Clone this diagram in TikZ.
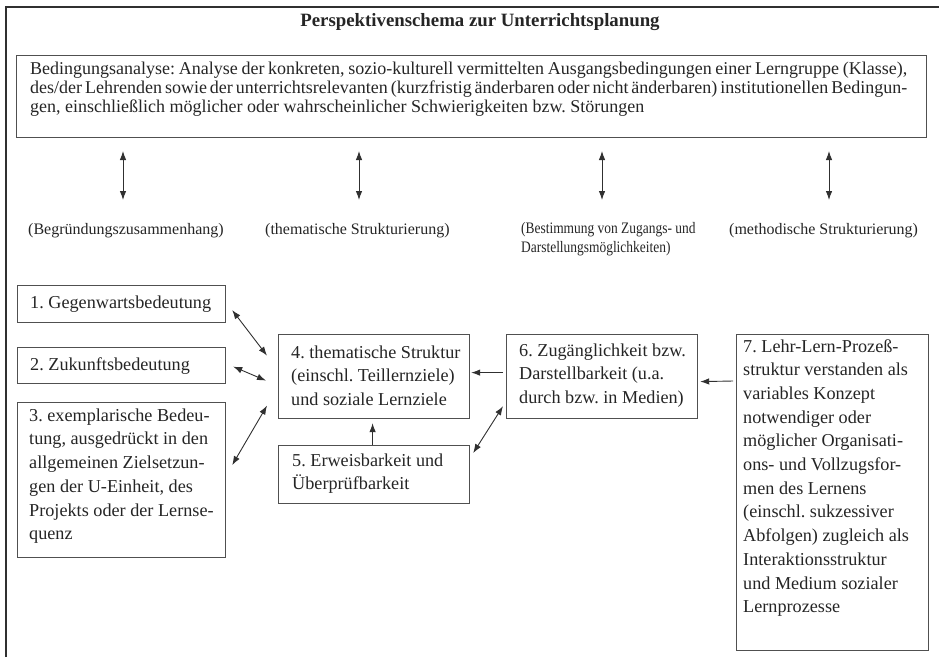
\documentclass[tikz,border=0pt]{standalone}
\usepackage{fontspec}
\setmainfont{Liberation Serif}
\usetikzlibrary{arrows.meta}
\definecolor{txt}{HTML}{252525}
\definecolor{boxc}{HTML}{505050}
\definecolor{arrc}{HTML}{303030}
\newcommand\fullline[1]{\hbox to 877pt{\spaceskip=0.22em plus 0.3em minus 0.1em\relax #1}}
\begin{document}
\frenchspacing
\begin{tikzpicture}[x=1pt,y=-1pt,
  every node/.style={text=txt},
  box/.style={draw=boxc, line width=1.2pt, inner sep=0pt, anchor=north west},
  boxtxt/.style={inner sep=0pt, align=left, font=\fontsize{18.2}{23.7}\selectfont\frenchspacing},
  lab/.style={font=\fontsize{16}{19}\selectfont, anchor=base west, inner sep=0pt, align=left},
  conn/.style={draw=arrc, line width=0.9pt, {Latex[length=9pt,width=6.5pt]}-{Latex[length=9pt,width=6.5pt]}},
  conn1/.style={draw=arrc, line width=0.9pt, -{Latex[length=9pt,width=6.5pt]}},
  frame/.style={draw=arrc, line width=1.4pt}
]
\useasboundingbox (0,0) rectangle (939,657);
% outer frame (open at right and bottom)
\draw[frame] (6,657) -- (6,7) -- (939,7);

\node[font=\fontsize{18.8}{22}\selectfont\bfseries, inner sep=0pt] (title) at (480,22) {Perspektivenschema zur Unterrichtsplanung};

\node[box, minimum width=910pt, minimum height=82pt,
  label={[boxtxt, anchor=north west, xshift=14pt, yshift=-7pt,
  font=\fontsize{18}{19}\selectfont\frenchspacing]north west:{\fullline{Bedingungsanalyse: Analyse der konkreten, sozio-kulturell vermittelten Ausgangsbedingungen einer Lerngruppe (Klasse),}\\
   \fullline{des/der Lehrenden sowie der unterrichtsrelevanten (kurzfristig änderbaren oder nicht änderbaren) institutionellen Bedingun-}\\
   gen, einschließlich möglicher oder wahrscheinlicher Schwierigkeiten bzw. Störungen}}] (bed) at (16,55) {};

% vertical double arrows
\coordinate (a1t) at (123,151); \coordinate (a1b) at (123,200);
\coordinate (a2t) at (359,151); \coordinate (a2b) at (359,200);
\coordinate (a3t) at (602,151); \coordinate (a3b) at (602,200);
\coordinate (a4t) at (829,151); \coordinate (a4b) at (829,200);
\draw[conn] (a1t) -- (a1b);
\draw[conn] (a2t) -- (a2b);
\draw[conn] (a3t) -- (a3b);
\draw[conn] (a4t) -- (a4b);

\node[lab] (l1) at (28,234) {(Begründungszusammenhang)};
\node[lab] (l2) at (265,234) {(thematische Strukturierung)};
\node[lab, anchor=north west, xscale=0.84, transform shape] (l3) at (521,222) {(Bestimmung von Zugangs- und\\Darstellungsmöglichkeiten)};
\node[lab] (l4) at (729,234) {(methodische Strukturierung)};

% boxes
\node[box, minimum width=208pt, minimum height=37pt,
  label={[boxtxt, anchor=west, xshift=13pt]west:{1. Gegenwartsbedeutung}}] (b1) at (17,285) {};
\node[box, minimum width=208pt, minimum height=36pt,
  label={[boxtxt, anchor=west, xshift=13pt]west:{2. Zukunftsbedeutung}}] (b2) at (17,347) {};
\node[box, minimum width=208pt, minimum height=155pt,
  label={[boxtxt, anchor=west, xshift=12pt, yshift=4pt]west:{3. exemplarische Bedeu-\\tung, ausgedrückt in den\\allgemeinen Zielsetzun-\\gen der U-Einheit, des\\Projekts oder der Lernse-\\quenz}}] (b3) at (17,402) {};
\node[box, minimum width=191pt, minimum height=84pt,
  label={[boxtxt, anchor=west, xshift=13pt, yshift=1pt]west:{4. thematische Struktur\\(einschl. Teillernziele)\\und soziale Lernziele}}] (b4) at (278,334) {};
\node[box, minimum width=191pt, minimum height=58pt,
  label={[boxtxt, anchor=west, xshift=14pt, yshift=1pt]west:{5. Erweisbarkeit und\\Überprüfbarkeit}}] (b5) at (278,445) {};
\node[box, minimum width=191pt, minimum height=84pt,
  label={[boxtxt, anchor=west, xshift=13pt, yshift=1pt]west:{6. Zugänglichkeit bzw.\\Darstellbarkeit (u.a.\\durch bzw. in Medien)}}] (b6) at (506,334) {};
\node[box, minimum width=192pt, minimum height=316pt,
  label={[boxtxt, anchor=north west, xshift=7pt, yshift=-5pt]north west:{7. Lehr-Lern-Prozeß-\\struktur verstanden als\\variables Konzept\\notwendiger oder\\möglicher Organisati-\\ons- und Vollzugsfor-\\men des Lernens\\(einschl. sukzessiver\\Abfolgen) zugleich als\\Interaktionsstruktur\\und Medium sozialer\\Lernprozesse}}] (b7) at (736,334) {};

% connectors
\draw[conn] ([shift={(6,6)}]b1.east) -- ([shift={(-11,-21)}]b4.west);
\draw[conn] ([shift={(7,1)}]b2.east) -- ([shift={(-12,4)}]b4.west);
\draw[conn] ([shift={(6,-15)}]b3.east) -- ([shift={(-11,29)}]b4.west);
\draw[conn1] ([shift={(-3,-4)}]b6.west) -- ([shift={(1,-4)}]b4.east);
\draw[conn1] ([shift={(-1.5,0)}]b5.north) -- ([shift={(-1.5,4)}]b4.south);
\draw[conn] ([shift={(3,8)}]b5.north east) -- ([shift={(-3,-13)}]b6.south west);
\draw[conn1] ([shift={(-3,47)}]b7.north west) -- ([shift={(2,5)}]b6.east);
\end{tikzpicture}
\end{document}
